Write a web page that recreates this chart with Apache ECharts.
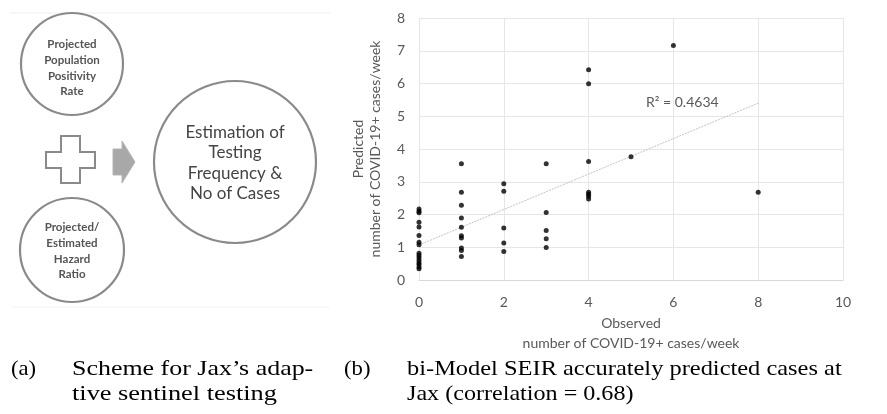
<!DOCTYPE html>
<html>
<head>
<meta charset="utf-8">
<script src="https://cdn.jsdelivr.net/npm/echarts@6/dist/echarts.min.js"></script>
<style>
  html, body { margin: 0; padding: 0; background: #ffffff; }
  #chart { width: 887px; height: 414px; }
</style>
</head>
<body>
<div id="chart"></div>
<script>
// ---- Data ----
var observedX = [0,0,0,0,0,0,0,0,0,0,0,0,0,0,0,0,
                 1,1,1,1,1,1,1,1,1,1,
                 2,2,2,2,2,
                 3,3,3,3,3,
                 4,4,4,4,4,4,4,
                 5, 6, 8];
var predictedY = [2.17,2.10,2.05,1.76,1.62,1.36,1.15,1.08,0.82,0.75,0.68,0.60,0.53,0.47,0.40,0.34,
                  3.55,2.68,2.28,1.89,1.61,1.35,1.28,0.98,0.90,0.72,
                  2.94,2.71,1.59,1.13,0.87,
                  3.55,2.06,1.51,1.26,0.99,
                  6.42,5.99,3.62,2.68,2.62,2.56,2.47,
                  3.76, 7.16, 2.68];
var trendX = [0, 8];
var trendY = [1.07, 5.40];
var r2Label = 'R\u00B2 = 0.4634';
var xTicks = [0, 2, 4, 6, 8, 10];
var yTicks = [0, 1, 2, 3, 4, 5, 6, 7, 8];
var xTitle = 'Observed\nnumber of COVID-19+ cases/week';
var yTitle = 'Predicted\nnumber of COVID-19+ cases/week';
var schemeInputA = 'Projected\nPopulation\nPositivity\nRate';
var schemeInputB = 'Projected/\nEstimated\nHazard\nRatio';
var schemeOutput = 'Estimation of\nTesting\nFrequency &\nNo of Cases';
var captionA = ['(a)', 'Scheme for Jax\u2019s adap-', 'tive sentinel testing'];
var captionB = ['(b)', 'bi-Model SEIR accurately predicted cases at', 'Jax (correlation = 0.68)'];

var points = observedX.map(function (x, i) { return [x, predictedY[i]]; });
var trend = trendX.map(function (x, i) { return [x, trendY[i]]; });

var chart = echarts.init(document.getElementById('chart'), null, { renderer: 'canvas' });
var labelFont = 'Lato, "Open Sans", sans-serif';
var gray = '#595959';
var stroke = '#8a8a8a';

var capFont = '21px "Liberation Serif", "Times New Roman", serif';

function cap(text, x, y, sx) {
  return { type: 'text', x: x, y: y, scaleX: sx, z: 10,
    style: { text: text, fill: '#000', font: capFont, verticalAlign: 'middle' } };
}

var option = {
  animation: false,
  backgroundColor: '#ffffff',
  grid: { left: 419, right: 44, top: 18, bottom: 134 },
  xAxis: {
    type: 'value', min: 0, max: 10, interval: 2,
    axisLine: { show: true, lineStyle: { color: '#d9d9d9', width: 1 } },
    axisTick: { show: false },
    axisLabel: { color: gray, fontFamily: labelFont, fontSize: 14, margin: 15,
      formatter: function (v) { return xTicks.indexOf(v) >= 0 ? String(v) : ''; } },
    splitLine: { show: true, lineStyle: { color: '#e6e6e6', width: 1 } },
    name: xTitle, nameLocation: 'middle', nameGap: 29,
    nameTextStyle: { color: gray, fontFamily: labelFont, fontSize: 14, lineHeight: 20, verticalAlign: 'top' }
  },
  yAxis: {
    type: 'value', min: 0, max: 8, interval: 1,
    axisLine: { show: false },
    axisTick: { show: false },
    axisLabel: { color: gray, fontFamily: labelFont, fontSize: 14, margin: 14,
      formatter: function (v) { return yTicks.indexOf(v) >= 0 ? String(v) : ''; } },
    splitLine: { show: true, lineStyle: { color: '#e6e6e6', width: 1 } },
    name: yTitle, nameLocation: 'middle', nameGap: 35,
    nameTextStyle: { color: gray, fontFamily: labelFont, fontSize: 14, lineHeight: 17 }
  },
  series: [
    {
      type: 'line', data: trend, symbol: 'none', silent: true,
      lineStyle: { color: '#c4c4c4', width: 1, type: [2, 1] },
      z: 2
    },
    {
      type: 'scatter', data: points, symbol: 'circle', symbolSize: 5,
      itemStyle: { color: '#000000' }, z: 3
    }
  ],
  graphic: [
    // R² label
    { type: 'text', left: 646, top: 95, z: 10,
      style: { text: r2Label, fill: gray, font: '14px ' + labelFont } },
    // faint frame lines of left panel
    { type: 'line', shape: { x1: 10, y1: 13, x2: 330, y2: 13 }, style: { stroke: '#efefef', lineWidth: 1 } },
    { type: 'line', shape: { x1: 10, y1: 307, x2: 330, y2: 307 }, style: { stroke: '#f4f4f4', lineWidth: 1 } },
    // circles
    { type: 'circle', shape: { cx: 72, cy: 64, r: 51 }, style: { fill: '#fff', stroke: stroke, lineWidth: 2.2 } },
    { type: 'circle', shape: { cx: 72, cy: 250, r: 52 }, style: { fill: '#fff', stroke: stroke, lineWidth: 2.2 } },
    { type: 'circle', shape: { cx: 235, cy: 162, r: 81 }, style: { fill: '#fff', stroke: stroke, lineWidth: 2.2 } },
    // plus sign outline
    { type: 'polygon', shape: { points: [[61,136],[80,136],[80,152],[95,152],[95,168],[80,168],[80,183],[61,183],[61,168],[46,168],[46,152],[61,152]] },
      style: { fill: '#fff', stroke: stroke, lineWidth: 2 } },
    // block arrow
    { type: 'polygon', shape: { points: [[113,149],[122,149],[122,141],[135,162],[122,183],[122,175],[113,175]] },
      style: { fill: '#a8a8a8', stroke: '#b4b4b4', lineWidth: 1 } },
    // circle texts
    { type: 'text', x: 72, y: 68, z: 10,
      style: { text: schemeInputA, fill: '#555', font: 'bold 11.5px ' + labelFont, align: 'center', verticalAlign: 'middle', lineHeight: 15.7 } },
    { type: 'text', x: 72, y: 251, z: 10,
      style: { text: schemeInputB, fill: '#555', font: 'bold 11.5px ' + labelFont, align: 'center', verticalAlign: 'middle', lineHeight: 15.7 } },
    { type: 'text', x: 235, y: 163, z: 10,
      style: { text: schemeOutput, fill: '#444', font: '17px ' + labelFont, align: 'center', verticalAlign: 'middle', lineHeight: 20.5 } },
    // captions
    cap(captionA[0], 11, 369, 1.08),
    cap(captionA[1], 72, 369, 1.235),
    cap(captionA[2], 72, 394, 1.255),
    cap(captionB[0], 344, 369, 1.08),
    cap(captionB[1], 407, 369, 1.163),
    cap(captionB[2], 407, 394, 1.148)
  ]
};
chart.setOption(option);
</script>
</body>
</html>
